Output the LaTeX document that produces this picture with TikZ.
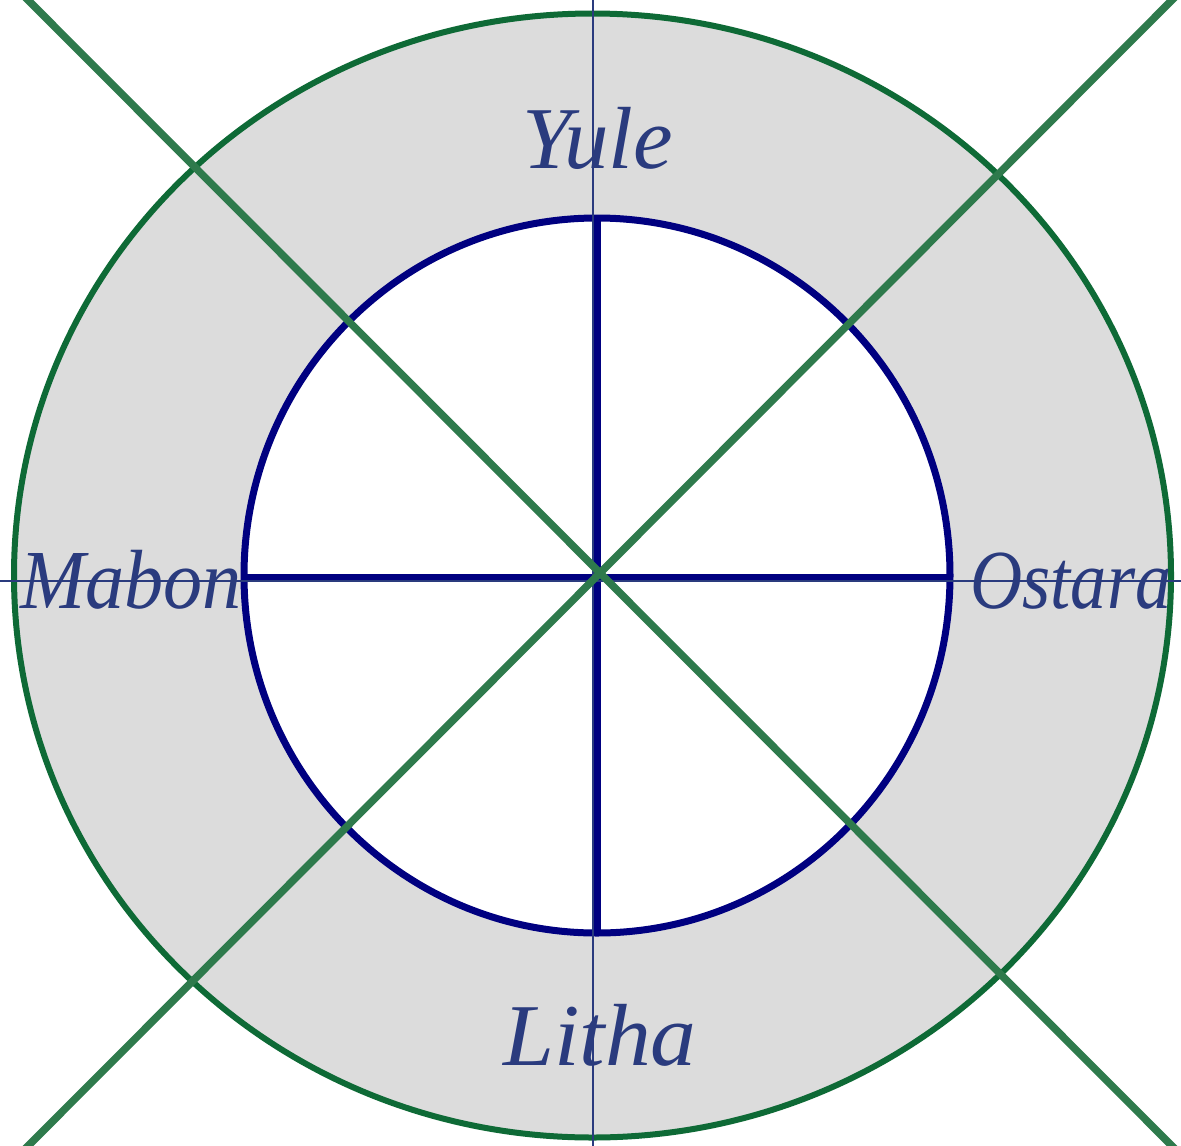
\documentclass[tikz,border=0pt]{standalone}
\usepackage{fontspec}
\setmainfont{Liberation Serif}
\definecolor{ringgray}{HTML}{DCDCDC}
\definecolor{ringgreen}{HTML}{0E6A36}
\definecolor{diaggreen}{HTML}{2E7A4C}
\definecolor{crossnavy}{HTML}{000080}
\definecolor{textnavy}{HTML}{2A3B7E}
\tikzset{
  lbl/.style={text=textnavy, font=\fontsize{84}{96}\selectfont\itshape, inner sep=0pt, anchor=base},
  thinline/.style={draw=textnavy, line width=2pt},
  diag/.style={draw=diaggreen, line width=7.5pt},
  navyline/.style={draw=crossnavy, line width=7pt},
}
\begin{document}
\begin{tikzpicture}[x=1pt,y=-1pt]
\useasboundingbox (0,0) rectangle (1181,1146);
\clip (0,0) rectangle (1181,1146);
\fill[white] (0,0) rectangle (1181,1146);
% outer ring
\fill[ringgray] (592.5,575.5) ellipse [x radius=578.5, y radius=562];
\draw[ringgreen, line width=6pt] (592.5,575.5) ellipse [x radius=578.5, y radius=562];
% inner disc
\fill[white] (597,575.5) ellipse [x radius=353, y radius=357.5];
\draw[crossnavy, line width=7pt] (597,575.5) ellipse [x radius=353, y radius=357.5];
% coordinates
\coordinate (itop) at (597,218);
\coordinate (ibot) at (597,933);
\coordinate (ileft) at (244,577);
\coordinate (iright) at (950,577);
\coordinate (vtop) at (593,-5);
\coordinate (vbot) at (593,1151);
\coordinate (hleft) at (-5,581);
\coordinate (hright) at (1186,581);
\coordinate (d1a) at (23,-5);
\coordinate (d1b) at (1177,1151);
\coordinate (d2a) at (1177,-5);
\coordinate (d2b) at (23,1151);
% navy cross
\draw[navyline] (itop) -- (ibot);
\draw[navyline] (ileft) -- (iright);
% thin axes
\draw[thinline] (vtop) -- (vbot);
\draw[thinline] (hleft) -- (hright);
% labels
\node[lbl] (yule) at (598,168) {\scalebox{1.06}[1.05]{Yule}};
\node[lbl] (litha) at (600,1065) {\scalebox{1.09}[1.05]{Litha}};
\node[lbl] (mabon) at (131,608) {\scalebox{0.93}[1]{Mabon}};
\node[lbl] (ostara) at (1071,608) {\scalebox{0.86}[1]{Ostara}};
% diagonals
\draw[diag] (d1a) -- (d1b);
\draw[diag] (d2a) -- (d2b);
\end{tikzpicture}
\end{document}
